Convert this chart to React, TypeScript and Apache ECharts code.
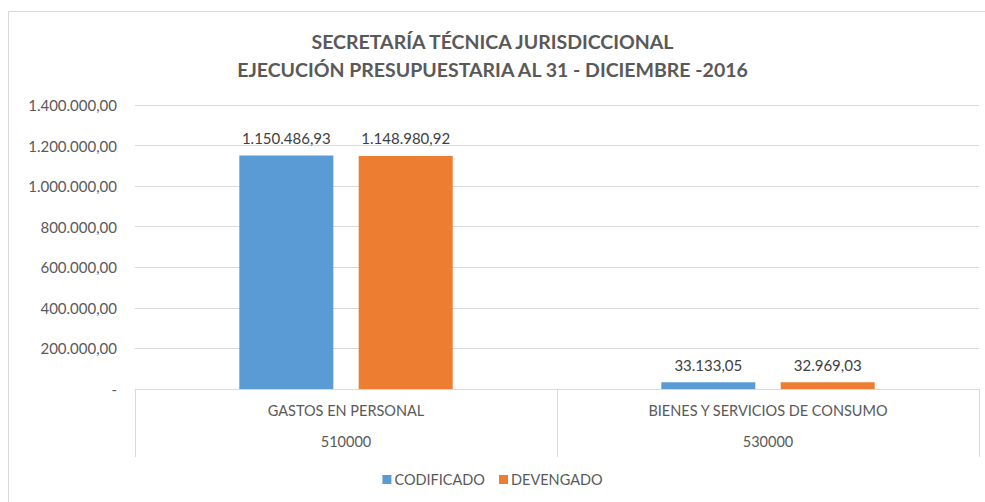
import React, { useEffect, useRef } from "react";
import * as echarts from "echarts";

const titleLines = [
  "SECRETARÍA TÉCNICA JURISDICCIONAL",
  "EJECUCIÓN PRESUPUESTARIA AL 31 - DICIEMBRE -2016",
];
const categoryNames = ["GASTOS EN PERSONAL", "BIENES Y SERVICIOS DE CONSUMO"];
const categoryCodes = ["510000", "530000"];
const seriesNames = ["CODIFICADO", "DEVENGADO"];
const codificado = [1150486.93, 33133.05];
const devengado = [1148980.92, 32969.03];
const yMin = 0;
const yMax = 1400000;
const yInterval = 200000;

function fmt(v: number): string {
  if (v === 0) return "-";
  const [int, dec] = v.toFixed(2).split(".");
  const withDots = int.replace(/\B(?=(\d{3})+(?!\d))/g, ".");
  return withDots + "," + dec;
}

export default function App() {
  const ref = useRef<HTMLDivElement>(null);
  useEffect(() => {
    if (!ref.current) return;
    const chart = echarts.init(ref.current, null, { renderer: "svg" });
    const font = "Lato, 'Open Sans', sans-serif";
    const dataLabel = {
      show: true,
      position: "top",
      distance: 10,
      fontFamily: font,
      fontSize: 15,
      color: "#404040",
      formatter: (p: any) => fmt(p.value),
    };
    chart.setOption({
      animation: false,
      backgroundColor: "#ffffff",
      textStyle: { fontFamily: font },
      graphic: [
        {
          type: "rect",
          shape: { x: 8.5, y: 11.5, width: 990, height: 500 },
          style: { fill: "none", stroke: "#d9d9d9", lineWidth: 1 },
          silent: true,
        },
      ],
      title: {
        text: titleLines.join("\n"),
        left: "center",
        top: 22,
        textStyle: {
          fontFamily: font,
          fontSize: 19.5,
          fontWeight: "bold",
          color: "#595959",
          lineHeight: 28,
        },
      },
      legend: {
        data: seriesNames,
        bottom: 10,
        left: "center",
        itemWidth: 9,
        itemHeight: 9,
        itemGap: 14,
        icon: "rect",
        textStyle: { fontFamily: font, fontSize: 14.5, color: "#595959", padding: [0, 0, 0, -2] },
      },
      grid: { left: 135, right: 6, top: 105, bottom: 113, containLabel: false },
      xAxis: {
        type: "category",
        data: categoryNames.map((n, i) => n + "\n" + categoryCodes[i]),
        axisLine: { lineStyle: { color: "#d9d9d9" } },
        axisTick: { show: true, length: 68, alignWithLabel: false, lineStyle: { color: "#d9d9d9" } },
        axisLabel: {
          fontFamily: font,
          fontSize: 14.5,
          color: "#595959",
          lineHeight: 31,
          margin: 6,
        },
      },
      yAxis: {
        type: "value",
        min: yMin,
        max: yMax,
        interval: yInterval,
        axisLine: { show: false },
        axisTick: { show: false },
        splitLine: { lineStyle: { color: "#d9d9d9" } },
        axisLabel: {
          fontFamily: font,
          fontSize: 15,
          color: "#595959",
          margin: 18,
          formatter: (v: number) => fmt(v),
        },
      },
      series: [
        {
          name: seriesNames[0],
          type: "bar",
          data: codificado,
          barWidth: 94,
          barGap: "27%",
          itemStyle: { color: "#5B9BD5" },
          label: dataLabel,
        },
        {
          name: seriesNames[1],
          type: "bar",
          data: devengado,
          barWidth: 94,
          barGap: "27%",
          itemStyle: { color: "#ED7D31" },
          label: dataLabel,
        },
      ],
    });
    return () => chart.dispose();
  }, []);
  return (
    <div
      ref={ref}
      style={{ position: "fixed", left: 0, top: 0, width: 985, height: 502 }}
    />
  );
}
